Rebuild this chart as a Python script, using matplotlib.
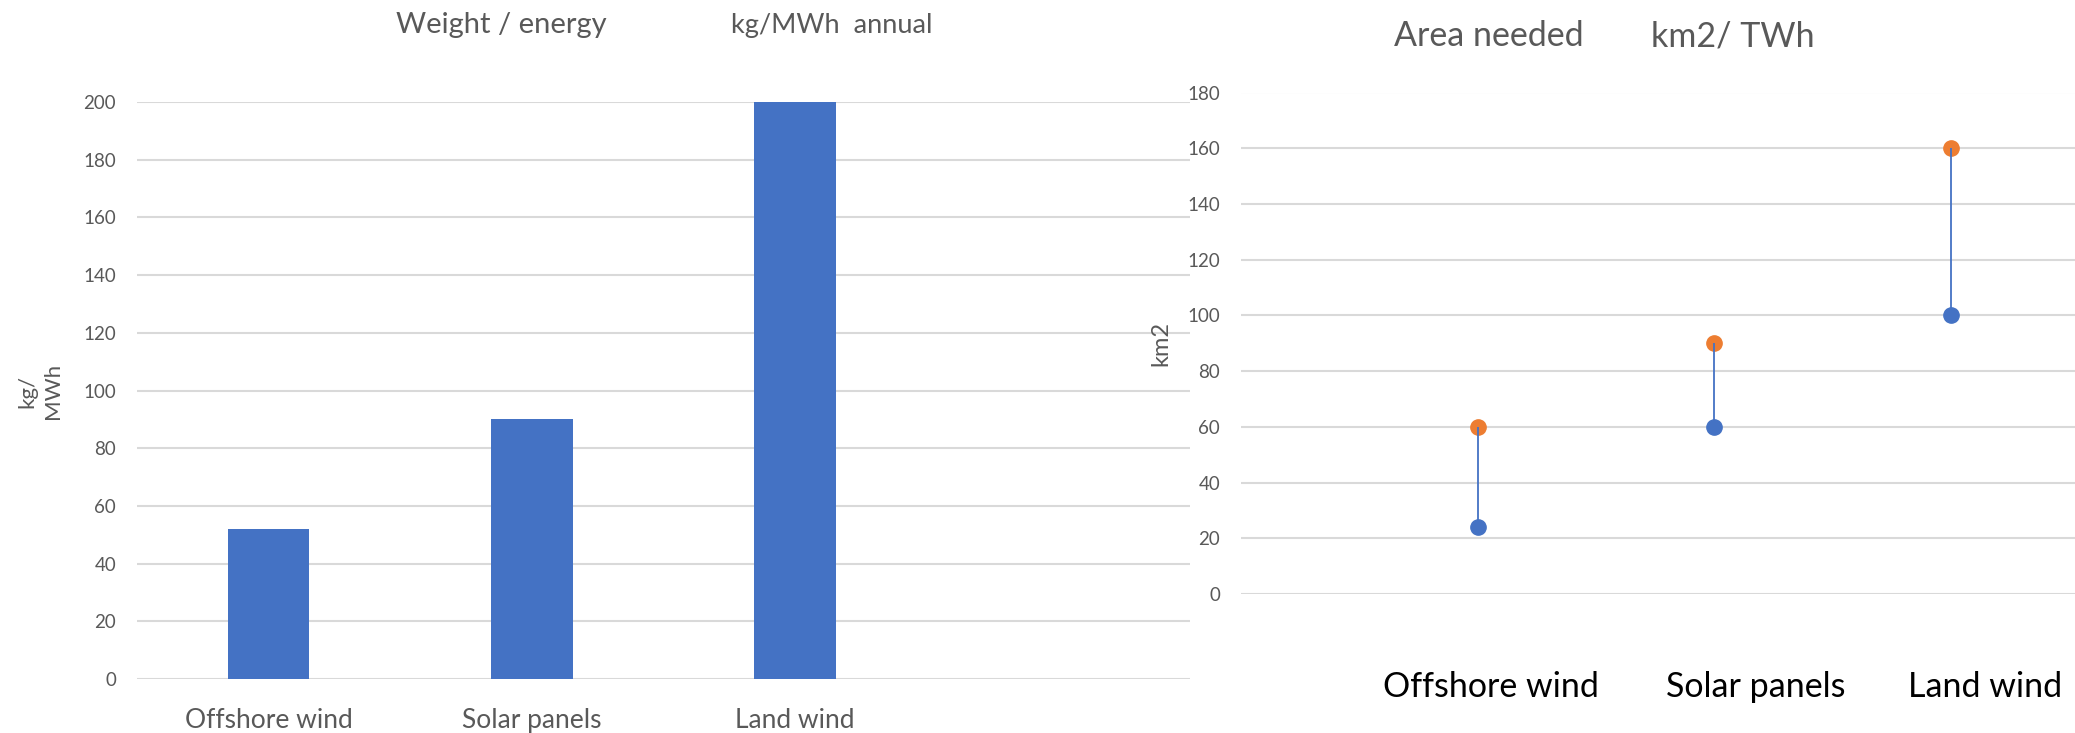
import matplotlib
matplotlib.use("Agg")
import matplotlib.pyplot as plt
from matplotlib.transforms import blended_transform_factory
import numpy as np

plt.rcParams['font.family'] = ['Lato', 'DejaVu Sans']

# ---- data ----
weight_categories = ["Offshore wind", "Solar panels", "Land wind", ""]
weight_values = [52, 90, 200, np.nan]

area_categories = ["Offshore wind", "Solar panels", "Land wind"]
area_low = [24, 60, 100]
area_high = [60, 90, 160]

weight_ticks = list(range(0, 201, 20))
area_ticks = list(range(0, 181, 20))

# ---- styling ----
BLUE = "#4472C4"
ORANGE = "#ED7D31"
GRID = "#D9D9D9"
TEXT = "#595959"

W, H = 2075, 733
fig = plt.figure(figsize=(W / 100, H / 100), dpi=100)


def fx(px):
    return px / W


def fy(py):
    return 1 - py / H


def style_axes(ax, ticks):
    for s in ax.spines.values():
        s.set_visible(False)
    ax.set_yticks(ticks)
    ax.yaxis.grid(True, color=GRID, linewidth=1.5)
    ax.set_axisbelow(True)
    ax.tick_params(axis='y', length=0, pad=15, labelsize=13.5, labelcolor=TEXT)
    ax.tick_params(axis='x', length=0)
    ax.set_xticks([])


# ---- left: bar chart ----
ax1 = fig.add_axes([fx(137), fy(679), fx(1190) - fx(137), fy(102) - fy(679)])
x1 = np.arange(len(weight_categories))
ax1.bar(x1, weight_values, width=0.31, color=BLUE, zorder=3)
ax1.set_xlim(-0.5, len(weight_categories) - 0.5)
ax1.set_ylim(0, 200)
style_axes(ax1, weight_ticks)
cat_trans = blended_transform_factory(ax1.transData, fig.transFigure)
for xi, lab in zip(x1, weight_categories):
    ax1.text(xi, fy(728), lab, transform=cat_trans, ha='center',
             va='baseline', fontsize=19, color=TEXT)

fig.text(fx(501), fy(33), "Weight / energy", ha='center', va='baseline',
         fontsize=21, color=TEXT)
fig.text(fx(832), fy(33), "kg/MWh  annual", ha='center', va='baseline',
         fontsize=19.5, color=TEXT)
fig.text(fx(40), fy(391), "kg/\nMWh", rotation=90, ha='center', va='center',
         multialignment='center', fontsize=16, color=TEXT, linespacing=1.35)

# ---- right: low/high dot chart ----
ax2 = fig.add_axes([fx(1241), fy(594), 1 - fx(1241), fy(92.5) - fy(594)])
x2 = np.arange(len(area_categories))
ax2.plot(x2, area_high, 'o', color=ORANGE, markersize=11, zorder=3)
ax2.vlines(x2, area_low, area_high, color=BLUE, linewidth=1.3, zorder=4)
ax2.plot(x2, area_low, 'o', color=BLUE, markersize=11, zorder=5)
ax2.set_xlim(-1, 2.524)
ax2.set_ylim(0, 180)
style_axes(ax2, area_ticks)

label_x = [1491, 1756, 1985]
for px, lab in zip(label_x, area_categories):
    fig.text(fx(px), fy(697), lab, ha='center', va='baseline',
             fontsize=24.5, color='black')

fig.text(fx(1489), fy(46), "Area needed", ha='center', va='baseline',
         fontsize=24.5, color=TEXT)
fig.text(fx(1733), fy(46), "km2/ TWh", ha='center', va='baseline',
         fontsize=24.5, color=TEXT)
fig.text(fx(1161), fy(344), "km2", rotation=90, ha='center', va='center',
         fontsize=17, color=TEXT)

fig.savefig("out.png", dpi=100, facecolor='white')
